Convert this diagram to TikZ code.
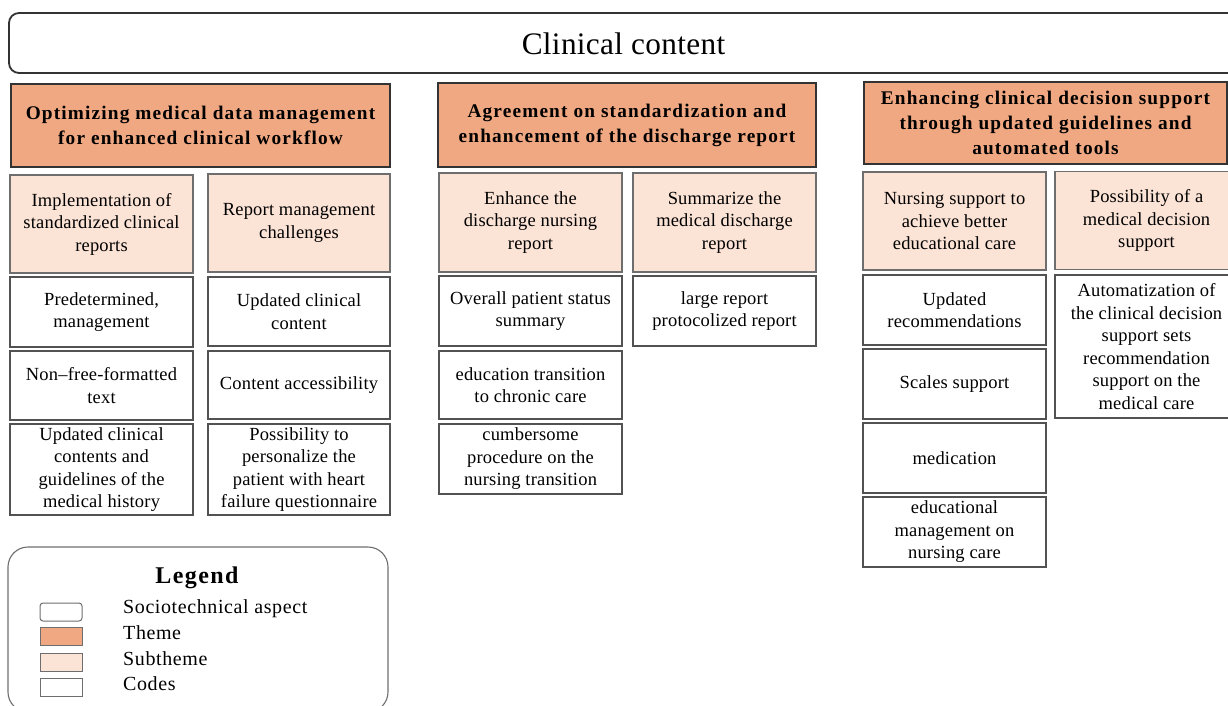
\documentclass[tikz,border=0pt]{standalone}
\usepackage{fontspec}
\setmainfont{Liberation Serif}
\newfontfamily\bodyfont{Liberation Serif}[Ligatures=TeX, LetterSpace=1]
\newfontfamily\themefont{Liberation Serif}[Ligatures=TeX, LetterSpace=6]
\newfontfamily\legfont{Liberation Serif}[Ligatures=TeX, LetterSpace=3]

\definecolor{themefill}{HTML}{F0A882}
\definecolor{subfill}{HTML}{FBE3D6}
\definecolor{edgedark}{HTML}{333333}
\definecolor{edgegray}{HTML}{6E6E6E}

\tikzset{
  boxbase/.style={rectangle, align=center, inner sep=2pt,
    font=\bodyfont\fontsize{18.5}{22.5}\selectfont},
  themebox/.style={boxbase, draw=edgedark, fill=themefill, line width=1.1pt,
    font=\themefont\bfseries\fontsize{19.3}{25}\selectfont},
  subbox/.style={boxbase, draw=edgegray, fill=subfill, line width=1.3pt},
  codebox/.style={boxbase, draw=edgedark!85!white, fill=white, line width=1.2pt},
  swatch/.style={rectangle, draw=edgegray, line width=1pt,
    minimum width=42pt, minimum height=18pt, inner sep=0pt},
  legtext/.style={anchor=base west, inner sep=0pt,
    font=\legfont\fontsize{20}{24}\selectfont},
}

\begin{document}
\begin{tikzpicture}[x=1pt, y=-1pt]
\useasboundingbox (0,0) rectangle (1228,706);

% heading bar
\draw[draw=edgedark, line width=1.8pt, rounded corners=10pt] (9,13) rectangle (1245,73);
\node[font=\bodyfont\fontsize{31.3}{36}\selectfont] (title) at (623.5,44) {Clinical content};

% ---- theme 1
\node[themebox, minimum width=379, minimum height=83] (t1) at (200.5,125.5)
  {Optimizing medical data management\\for enhanced clinical workflow};
\node[subbox, minimum width=183, minimum height=98] (s1a) at (101.5,224)
  {Implementation of\\standardized clinical\\reports};
\node[subbox, minimum width=182, minimum height=98] (s1b) at (299,223)
  {Report management\\challenges};
\node[codebox, minimum width=183, minimum height=70] (c1a1) at (101.5,312)
  {Predetermined,\\management};
\node[codebox, minimum width=183, minimum height=69] (c1a2) at (101.5,385.5)
  {Non--free-formatted\\text};
\node[codebox, minimum width=183, minimum height=91] (c1a3) at (101.5,469.5)
  {Updated clinical\\contents and\\guidelines of the\\medical history};
\node[codebox, minimum width=182, minimum height=69] (c1b1) at (299,311.5)
  {Updated clinical\\content};
\node[codebox, minimum width=182, minimum height=68] (c1b2) at (299,385)
  {Content accessibility};
\node[codebox, minimum width=182, minimum height=91] (c1b3) at (299,469.5)
  {Possibility to\\personalize the\\patient with heart\\failure questionnaire};

% ---- theme 2
\node[themebox, minimum width=378, minimum height=84] (t2) at (627,125)
  {Agreement on standardization and\\enhancement of the discharge report};
\node[subbox, minimum width=183, minimum height=99] (s2a) at (530.5,222.5)
  {Enhance the\\discharge nursing\\report};
\node[subbox, minimum width=183, minimum height=99] (s2b) at (724.5,222.5)
  {Summarize the\\medical discharge\\report};
\node[codebox, minimum width=183, minimum height=70] (c2a1) at (530.5,311)
  {Overall patient status\\summary};
\node[codebox, minimum width=183, minimum height=68] (c2a2) at (530.5,385)
  {education transition\\to chronic care};
\node[codebox, minimum width=183, minimum height=70] (c2a3) at (530.5,459)
  {cumbersome\\procedure on the\\nursing transition};
\node[codebox, minimum width=183, minimum height=70] (c2b1) at (724.5,311)
  {large report\\protocolized report};

% ---- theme 3
\node[themebox, minimum width=363, minimum height=82] (t3) at (1045.5,123)
  {Enhancing clinical decision support\\through updated guidelines and\\automated tools};
\node[subbox, minimum width=183, minimum height=98] (s3a) at (954.5,221)
  {Nursing support to\\achieve better\\educational care};
\node[subbox, minimum width=183, minimum height=98] (s3b) at (1146.5,220.5)
  {Possibility of a\\medical decision\\support};
\node[codebox, minimum width=183, minimum height=70] (c3a1) at (954.5,310)
  {Updated\\recommendations};
\node[codebox, minimum width=183, minimum height=70] (c3a2) at (954.5,384)
  {Scales support};
\node[codebox, minimum width=183, minimum height=70] (c3a3) at (954.5,458)
  {medication};
\node[codebox, minimum width=183, minimum height=70] (c3a4) at (954.5,532)
  {educational\\management on\\nursing care};
\node[codebox, minimum width=183, minimum height=143] (c3b1) at (1146.5,346.5)
  {Automatization of\\the clinical decision\\support sets\\recommendation\\support on the\\medical care};

% ---- legend
\draw[draw=edgegray, line width=1.1pt, rounded corners=20pt] (8,547) rectangle (388,712);
\node[font=\themefont\bfseries\fontsize{24}{28}\selectfont] (legtitle) at (197,578) {Legend};
\node[swatch, fill=white, rounded corners=3pt] (k1) at (61,612) {};
\node[swatch, fill=themefill] (k2) at (61,636) {};
\node[swatch, fill=subfill] (k3) at (61,662) {};
\node[swatch, fill=white] (k4) at (61,687) {};
\node[legtext] (l1) at (123,613) {Sociotechnical aspect};
\node[legtext] (l2) at (123,639) {Theme};
\node[legtext] (l3) at (123,665) {Subtheme};
\node[legtext] (l4) at (123,690) {Codes};
\end{tikzpicture}
\end{document}
